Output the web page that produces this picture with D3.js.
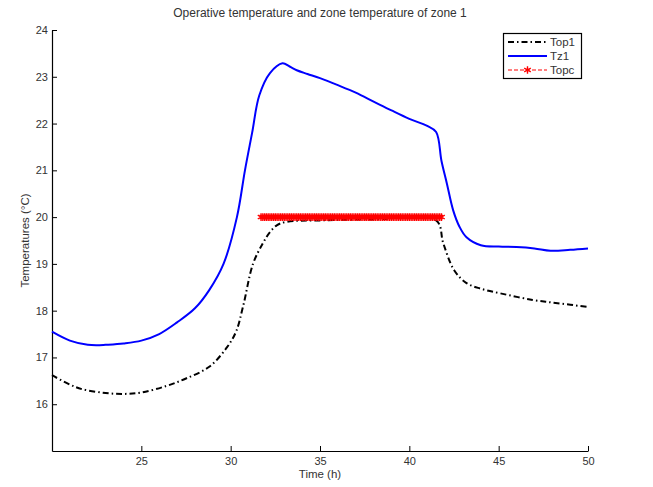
<!DOCTYPE html>
<html>
<head>
  <meta charset="utf-8">
  <script src="https://cdn.jsdelivr.net/npm/d3@7"></script>
  <style>
    body { margin: 0; background: #fff; }
    svg { display: block; font-family: "Liberation Sans", Arial, sans-serif; }
    .axis path, .axis line { stroke: #000; }
    .axis text { fill: #333; font-size: 11px; }
  </style>
</head>
<body>
  <svg width="653" height="487"></svg>
  <script>
    // Tz1, zone temperature (blue)
    var tz1Time = [20, 21, 22, 22.5, 23, 24, 25, 26, 27, 28, 28.8, 29.6, 30.35, 30.8, 31.2, 31.6, 32.2, 32.9, 33.3, 33.7, 34.3, 35, 36, 37, 38, 39, 40, 41, 41.5, 41.8, 42.1, 42.45, 42.8, 43.2, 44, 45, 46, 47, 47.9, 49, 50];
    var tz1 = [17.55, 17.36, 17.27, 17.26, 17.27, 17.3, 17.36, 17.5, 17.75, 18.05, 18.44, 19.0, 20.0, 21.0, 21.8, 22.6, 23.08, 23.29, 23.22, 23.14, 23.06, 22.97, 22.82, 22.66, 22.47, 22.28, 22.1, 21.95, 21.82, 21.2, 20.72, 20.15, 19.8, 19.57, 19.4, 19.37, 19.36, 19.33, 19.28, 19.3, 19.33];

    // Top1, operative temperature (black dash-dot)
    var top1Time = [20, 21, 21.7, 23, 24, 25, 26.4, 27.5, 28.8, 29.8, 30.3, 30.7, 31.25, 31.8, 32.2, 32.6, 33.15, 35, 38, 41.5, 41.9, 42.5, 43.2, 44, 45.1, 46.9, 48.3, 50];
    var top1 = [16.62, 16.42, 16.32, 16.24, 16.22, 16.25, 16.39, 16.55, 16.8, 17.22, 17.55, 18.1, 19.0, 19.44, 19.68, 19.83, 19.9, 19.93, 19.95, 19.93, 19.44, 18.87, 18.59, 18.47, 18.37, 18.23, 18.16, 18.08];

    // Topc, operative temperature setpoint (red markers), sampled every 0.1 h
    var topcTime = d3.range(31.7, 41.85, 0.1);
    var topcValue = 20;

    var xTicks = [25, 30, 35, 40, 45, 50];
    var yTicks = [16, 17, 18, 19, 20, 21, 22, 23, 24];
    var seriesNames = ["Top1", "Tz1", "Topc"];

    var svg = d3.select("svg");
    var plotLeft = 52, plotRight = 588, plotTop = 30, plotBottom = 451;

    var x = d3.scaleLinear().domain([20, 50]).range([plotLeft, plotRight]);
    var y = d3.scaleLinear().domain([15, 24]).range([plotBottom, plotTop]);

    //axes, ticks pointing inward
    svg.append("g")
      .attr("class", "axis")
      .attr("transform", "translate(0," + plotBottom + ")")
      .call(d3.axisBottom(x).tickValues(xTicks).tickSize(-5).tickSizeOuter(0).tickPadding(6))
      .call(function(g) { g.select(".domain").attr("stroke-width", 1.2); });

    svg.append("g")
      .attr("class", "axis")
      .attr("transform", "translate(" + plotLeft + ",0)")
      .call(d3.axisLeft(y).tickValues(yTicks).tickSize(-5).tickSizeOuter(0).tickPadding(4))
      .call(function(g) { g.select(".domain").attr("stroke-width", 1.2); });

    var line = d3.line()
      .x(function(d) { return x(d[0]); })
      .y(function(d) { return y(d[1]); })
      .curve(d3.curveCatmullRom.alpha(0.5));

    var tzData = tz1Time.map(function(t, i) { return [t, tz1[i]]; });
    var topData = top1Time.map(function(t, i) { return [t, top1[i]]; });
    var topcData = topcTime.map(function(t) { return [t, topcValue]; });

    svg.append("path")
      .datum(topData)
      .attr("d", line)
      .attr("fill", "none")
      .attr("stroke", "#000")
      .attr("stroke-width", 2)
      .attr("stroke-dasharray", "6,3,1.5,3");

    svg.append("path")
      .datum(tzData)
      .attr("d", line)
      .attr("fill", "none")
      .attr("stroke", "#0000ff")
      .attr("stroke-width", 2);

    svg.append("path")
      .datum(topcData)
      .attr("d", line)
      .attr("fill", "none")
      .attr("stroke", "#ff0000")
      .attr("stroke-width", 1)
      .attr("stroke-dasharray", "4,2");

    var star = d3.symbol().type(d3.symbolAsterisk).size(40);
    svg.append("g")
      .selectAll("path")
      .data(topcData)
      .enter()
      .append("path")
      .attr("transform", function(d) { return "translate(" + x(d[0]) + "," + y(d[1]) + ")"; })
      .attr("d", star)
      .attr("fill", "none")
      .attr("stroke", "#ff0000")
      .attr("stroke-width", 1.4);

    //title and labels
    svg.append("text")
      .attr("x", (plotLeft + plotRight) / 2)
      .attr("y", 17)
      .attr("text-anchor", "middle")
      .attr("font-size", "12px")
      .attr("fill", "#333")
      .text("Operative temperature and zone temperature of zone 1");

    svg.append("text")
      .attr("x", (plotLeft + plotRight) / 2)
      .attr("y", 478)
      .attr("text-anchor", "middle")
      .attr("font-size", "11.5px")
      .attr("fill", "#333")
      .text("Time (h)");

    svg.append("text")
      .attr("transform", "translate(29," + ((plotTop + plotBottom) / 2) + ") rotate(-90)")
      .attr("text-anchor", "middle")
      .attr("font-size", "11.5px")
      .attr("fill", "#333")
      .text("Temperatures (\u00B0C)");

    //legend
    var legend = svg.append("g");
    legend.append("rect")
      .attr("x", 503.5).attr("y", 33.5)
      .attr("width", 78).attr("height", 45)
      .attr("fill", "#fff")
      .attr("stroke", "#000")
      .attr("stroke-width", 1.2);

    var legendY = [42, 56, 70];
    var legendStroke = ["#000", "#0000ff", "#ff0000"];
    var legendDash = ["6,3,1.5,3", null, "4,2"];
    var legendWidth = [2, 2, 1];

    seriesNames.forEach(function(name, i) {
      legend.append("line")
        .attr("x1", 508).attr("x2", 547)
        .attr("y1", legendY[i]).attr("y2", legendY[i])
        .attr("stroke", legendStroke[i])
        .attr("stroke-width", legendWidth[i])
        .attr("stroke-dasharray", legendDash[i]);
      legend.append("text")
        .attr("x", 550)
        .attr("y", legendY[i] + 4)
        .attr("font-size", "11.5px")
        .attr("fill", "#333")
        .text(name);
    });

    legend.append("path")
      .attr("transform", "translate(527.5," + legendY[2] + ")")
      .attr("d", star)
      .attr("fill", "none")
      .attr("stroke", "#ff0000")
      .attr("stroke-width", 1.4);
  </script>
</body>
</html>
